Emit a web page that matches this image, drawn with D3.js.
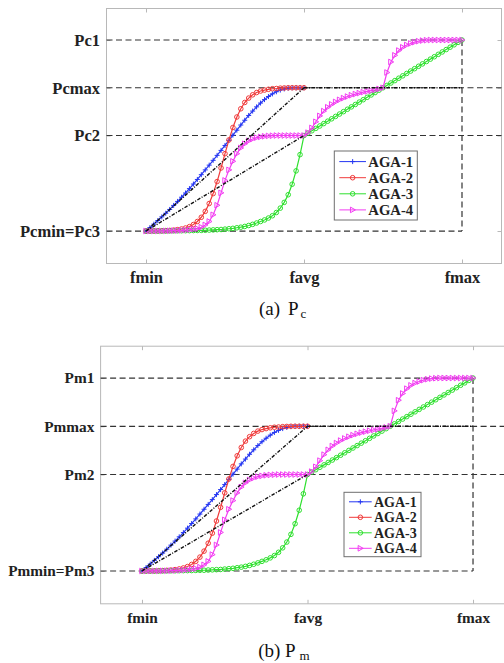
<!DOCTYPE html>
<html>
<head>
<meta charset="utf-8">
<title>AGA adaptive probabilities</title>
<script src="https://d3js.org/d3.v7.min.js"></script>
<style>
    body { margin: 0; background: #fff; }
    svg { display: block; font-family: "Liberation Serif", "Times New Roman", serif; }
    .box { fill: none; stroke: #b8b8b8; stroke-width: 1; }
    .axis .domain { display: none; }
    .axis line { stroke: #b8b8b8; }
    .axis text { fill: #222; font-weight: bold; font-family: "Liberation Serif", serif; }
    .guide { fill: none; stroke: #333; stroke-width: 1.2; stroke-dasharray: 6,3.5; }
    .ref { fill: none; stroke: #111; stroke-width: 1.4; stroke-dasharray: 3.5,1.5,1,1.5; }
    .curve { fill: none; stroke-width: 1.2; }
    .mk { fill: none; stroke-width: 1; }
    .legend rect { fill: #fff; stroke: #6e6e6e; stroke-width: 1; }
    .legend text { font-weight: bold; fill: #222; }
    .caption { fill: #111; }
</style>
</head>
<body>
<script>
// x axis: normalised fitness, fmin = 0, favg = 1, fmax = 2
var fTicks = [0, 1, 2];
var fLabels = ["fmin", "favg", "fmax"];
// y axis: normalised probability, Pmin = 0, P2 = 0.5, Pmax = 0.75, P1 = 1
var pTicks = [0, 0.5, 0.75, 1];
var pcLabels = ["Pcmin=Pc3", "Pc2", "Pcmax", "Pc1"];
var pmLabels = ["Pmmin=Pm3", "Pm2", "Pmmax", "Pm1"];
var seriesNames = ["AGA-1", "AGA-2", "AGA-3", "AGA-4"];
var fStep = 0.025; // curves are sampled every 0.025 starting at fmin

// AGA-1 and AGA-2 stop at favg
var aga1 = [0, 0.018, 0.036, 0.055, 0.074, 0.093, 0.113, 0.134, 0.155, 0.177,
    0.199, 0.222, 0.246, 0.27, 0.295, 0.32, 0.345, 0.37, 0.396, 0.422,
    0.448, 0.475, 0.502, 0.528, 0.555, 0.58, 0.605, 0.628, 0.65, 0.67,
    0.688, 0.704, 0.718, 0.729, 0.738, 0.744, 0.748, 0.75, 0.75, 0.75, 0.75];
var aga2 = [0, 0.0004, 0.0007, 0.001, 0.0015, 0.0022, 0.0033, 0.0048, 0.0072, 0.0107,
    0.0158, 0.023, 0.034, 0.05, 0.072, 0.103, 0.144, 0.196, 0.259, 0.33,
    0.405, 0.477, 0.542, 0.597, 0.64, 0.673, 0.696, 0.713, 0.725, 0.733,
    0.738, 0.742, 0.745, 0.746, 0.748, 0.749, 0.75, 0.75, 0.75, 0.75, 0.75];
// AGA-3 and AGA-4 run from fmin to fmax
var aga3 = [0, 0, 0, 0, 0.0003, 0.0005, 0.0007, 0.001, 0.0012, 0.0015,
    0.0018, 0.002, 0.0025, 0.003, 0.0035, 0.004, 0.005, 0.006, 0.007, 0.008,
    0.01, 0.012, 0.014, 0.017, 0.02, 0.024, 0.029, 0.035, 0.042, 0.05,
    0.058, 0.068, 0.08, 0.097, 0.12, 0.15, 0.19, 0.245, 0.315, 0.4,
    0.5, 0.5125, 0.525, 0.5375, 0.55, 0.5625, 0.575, 0.5875, 0.6, 0.6125,
    0.625, 0.6375, 0.65, 0.6625, 0.675, 0.6875, 0.7, 0.7125, 0.725, 0.7375,
    0.75, 0.7625, 0.775, 0.7875, 0.8, 0.8125, 0.825, 0.8375, 0.85, 0.8625,
    0.875, 0.8875, 0.9, 0.9125, 0.925, 0.9375, 0.95, 0.9625, 0.975, 0.9875, 1];
var aga4 = [0, 0.0001, 0.0002, 0.0004, 0.0006, 0.0009, 0.0013, 0.0018, 0.0025, 0.0035,
    0.005, 0.007, 0.01, 0.013, 0.02, 0.032, 0.05, 0.085, 0.135, 0.2,
    0.265, 0.32, 0.365, 0.405, 0.435, 0.457, 0.472, 0.482, 0.489, 0.493,
    0.496, 0.498, 0.499, 0.5, 0.5, 0.5, 0.5, 0.5, 0.5, 0.5,
    0.5, 0.515, 0.54, 0.572, 0.603, 0.628, 0.648, 0.663, 0.676, 0.687,
    0.696, 0.704, 0.711, 0.717, 0.722, 0.727, 0.731, 0.735, 0.739, 0.744,
    0.75, 0.83, 0.885, 0.92, 0.945, 0.962, 0.974, 0.982, 0.989, 0.994,
    0.997, 0.999, 1, 1, 1, 1, 1, 1, 1, 1, 1];
// black dash-dot reference segments [from, to]
var refLines = [
    [[0, 0], [1, 0.75]],
    [[0, 0], [1, 0.5]],
    [[1, 0.75], [2, 0.75]]
];

var series = [
    { name: seriesNames[0], values: aga1, color: "#2436f2", marker: "plus" },
    { name: seriesNames[1], values: aga2, color: "#f03a3a", marker: "circle" },
    { name: seriesNames[2], values: aga3, color: "#2ee02e", marker: "circle" },
    { name: seriesNames[3], values: aga4, color: "#f23cf2", marker: "tri" }
];

var panels = [
    { labels: pcLabels, left: 106.5, right: 501.5, top: 8.5, bottom: 263.5,
      font: 16.5, xPad: 7.5, yPad: 6.5,
      leg: { x: 334.3, y: 151, w: 83, h: 69, row0: 10.6, row: 16.1, lineW: 26.7, textX: 34, font: 14.7 },
      cap: { x: 259, pX: 288, subX: 300.5, y: 315, sub: "c" }, capText: "(a)" },
    { labels: pmLabels, left: 100.6, right: 514.4, top: 346.2, bottom: 603.8,
      font: 15.3, xPad: 8.3, yPad: 6.3,
      leg: { x: 344, y: 492.3, w: 77, h: 64.4, row0: 9.5, row: 15.5, lineW: 22.7, textX: 30, font: 14 },
      cap: { x: 258.3, pX: 285, subX: 299.5, y: 657, sub: "m" }, capText: "(b)" }
];

var svg = d3.select("body").append("svg")
    .attr("width", 504)
    .attr("height", 663);

panels.forEach(drawPanel);

function drawMarker(g, type, cx, cy, color) {
    if (type === "plus") {
        g.append("path").attr("class", "mk").attr("stroke", color)
            .attr("d", "M" + (cx - 2.5) + "," + cy + "H" + (cx + 2.5) + "M" + cx + "," + (cy - 2.5) + "V" + (cy + 2.5));
    } else if (type === "circle") {
        g.append("circle").attr("class", "mk").attr("stroke", color)
            .attr("cx", cx).attr("cy", cy).attr("r", 2.3);
    } else {
        g.append("path").attr("class", "mk").attr("stroke", color)
            .attr("d", "M" + (cx - 2.2) + "," + (cy - 2.8) + "L" + (cx + 2.8) + "," + cy + "L" + (cx - 2.2) + "," + (cy + 2.8) + "Z");
    }
}

function drawPanel(p) {
    var x = d3.scaleLinear().domain([-0.25, 2.25]).range([p.left, p.right]);
    var y = d3.scaleLinear().domain([-0.17, 1.165]).range([p.bottom, p.top]);
    var g = svg.append("g");

    // axes: inward ticks on all four sides
    var xb = g.append("g").attr("class", "axis")
        .attr("transform", "translate(0," + p.bottom + ")")
        .call(d3.axisBottom(x).tickValues(fTicks).tickFormat(function (d, i) { return fLabels[i]; })
            .tickSizeInner(-4).tickSizeOuter(0).tickPadding(p.xPad));
    g.append("g").attr("class", "axis")
        .attr("transform", "translate(0," + p.top + ")")
        .call(d3.axisTop(x).tickValues(fTicks).tickFormat("").tickSizeInner(-4).tickSizeOuter(0));
    var yl = g.append("g").attr("class", "axis")
        .attr("transform", "translate(" + p.left + ",0)")
        .call(d3.axisLeft(y).tickValues(pTicks).tickFormat(function (d, i) { return p.labels[i]; })
            .tickSizeInner(-4).tickSizeOuter(0).tickPadding(p.yPad));
    g.append("g").attr("class", "axis")
        .attr("transform", "translate(" + p.right + ",0)")
        .call(d3.axisRight(y).tickValues(pTicks).tickFormat("").tickSizeInner(-4).tickSizeOuter(0));
    g.selectAll(".axis").attr("font-family", null);
    xb.selectAll("text").attr("font-size", p.font);
    yl.selectAll("text").attr("font-size", p.font);

    g.append("rect").attr("class", "box")
        .attr("x", p.left).attr("y", p.top)
        .attr("width", p.right - p.left).attr("height", p.bottom - p.top);

    // dashed guide lines
    var xEnd = x.domain()[1];
    var guides = [
        [[x.domain()[0], pTicks[3]], [fTicks[2], pTicks[3]]],
        [[x.domain()[0], pTicks[2]], [xEnd, pTicks[2]]],
        [[x.domain()[0], pTicks[1]], [xEnd, pTicks[1]]],
        [[x.domain()[0], pTicks[0]], [fTicks[2], pTicks[0]]],
        [[fTicks[2], pTicks[3]], [fTicks[2], pTicks[0]]]
    ];
    g.selectAll(".guide").data(guides).enter().append("line")
        .attr("class", "guide")
        .attr("x1", function (d) { return x(d[0][0]); })
        .attr("y1", function (d) { return y(d[0][1]); })
        .attr("x2", function (d) { return x(d[1][0]); })
        .attr("y2", function (d) { return y(d[1][1]); });

    var line = d3.line()
        .x(function (d, i) { return x(i * fStep); })
        .y(function (d) { return y(d); });

    series.forEach(function (s) {
        g.append("path").datum(s.values)
            .attr("class", "curve")
            .attr("stroke", s.color)
            .attr("d", line);
        var mg = g.append("g");
        s.values.forEach(function (v, i) {
            drawMarker(mg, s.marker, x(i * fStep), y(v), s.color);
        });
    });

    g.selectAll(".ref").data(refLines).enter().append("line")
        .attr("class", "ref")
        .attr("x1", function (d) { return x(d[0][0]); })
        .attr("y1", function (d) { return y(d[0][1]); })
        .attr("x2", function (d) { return x(d[1][0]); })
        .attr("y2", function (d) { return y(d[1][1]); });

    // legend
    var L = p.leg;
    var lg = g.append("g").attr("class", "legend")
        .attr("transform", "translate(" + L.x + "," + L.y + ")");
    lg.append("rect").attr("width", L.w).attr("height", L.h);
    series.forEach(function (s, i) {
        var ry = L.row0 + i * L.row;
        lg.append("line").attr("x1", 5).attr("x2", 5 + L.lineW)
            .attr("y1", ry).attr("y2", ry)
            .attr("stroke", s.color).attr("stroke-width", 1);
        drawMarker(lg, s.marker, 5 + L.lineW / 2, ry, s.color);
        lg.append("text").attr("x", L.textX).attr("y", ry)
            .attr("dy", "0.35em")
            .attr("font-size", L.font)
            .text(s.name);
    });

    // caption
    var c = p.cap;
    var cap = g.append("text").attr("class", "caption").attr("y", c.y).attr("font-size", 19);
    cap.append("tspan").attr("x", c.x).text(p.capText);
    cap.append("tspan").attr("x", c.pX).text("P");
    cap.append("tspan").attr("x", c.subX).attr("dy", 3).attr("font-size", 13).text(c.sub);
}
</script>
</body>
</html>
